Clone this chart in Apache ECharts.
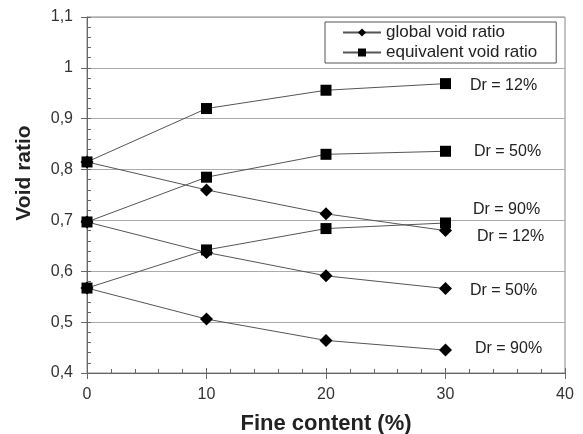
<!DOCTYPE html>
<html>
<head>
<meta charset="utf-8">
<script src="https://cdn.jsdelivr.net/npm/echarts@6/dist/echarts.min.js"></script>
<style>html,body{margin:0;padding:0;background:#fff;}#c{width:583px;height:434px;}</style>
</head>
<body>
<div id="c"></div>
<script>
var fineContent = [0, 10, 20, 30];
var seriesNames = ['global void ratio', 'equivalent void ratio'];
var drLabels = ['Dr = 12%', 'Dr = 50%', 'Dr = 90%'];
var globalDr12 = [0.815, 0.760, 0.713, 0.680];
var globalDr50 = [0.697, 0.637, 0.591, 0.566];
var globalDr90 = [0.567, 0.506, 0.464, 0.445];
var equivDr12 = [0.815, 0.920, 0.956, 0.969];
var equivDr50 = [0.697, 0.785, 0.830, 0.836];
var equivDr90 = [0.567, 0.642, 0.684, 0.695];
var yTicks = [0.4, 0.5, 0.6, 0.7, 0.8, 0.9, 1.0, 1.1];
var xTicks = [0, 10, 20, 30, 40];
var xTitle = 'Fine content (%)';
var yTitle = 'Void ratio';

var FONT = 'Liberation Sans';
function mk(name, ys, symbol, size, lbl, off) {
  return {
    name: name, type: 'line', symbol: symbol, symbolSize: size,
    itemStyle: {color: '#000'},
    lineStyle: {color: '#555', width: 1},
    emphasis: {disabled: true},
    z: 3,
    data: ys.map(function (v, i) {
      var d = {value: [fineContent[i], v]};
      if (i === ys.length - 1) {
        d.label = {show: true, formatter: lbl, position: 'right', distance: 0,
          offset: off, align: 'left', verticalAlign: 'middle',
          fontFamily: FONT, fontSize: 16, color: '#222'};
      }
      return d;
    })
  };
}

var chart = echarts.init(document.getElementById('c'), null, {renderer: 'canvas'});
chart.setOption({
  animation: false,
  backgroundColor: '#fff',
  grid: {left: 87, right: 18, top: 17, bottom: 61, containLabel: false, outerBoundsMode: 'none',
    show: true, borderColor: '#888', borderWidth: 1},
  legend: {
    data: seriesNames,
    orient: 'vertical', left: 325, top: 22,
    itemWidth: 38, itemHeight: 10, itemGap: 3,
    padding: [2, 19, 2, 17],
    borderColor: '#555', borderWidth: 1, backgroundColor: '#fff',
    textStyle: {fontFamily: FONT, fontSize: 17, color: '#222'},
    selectedMode: false
  },
  graphic: [{
    type: 'text', x: 24, y: 173, rotation: Math.PI / 2, z: 10,
    style: {text: yTitle, font: 'bold 21px "Liberation Sans"', fill: '#222', textAlign: 'center', textVerticalAlign: 'middle'}
  }],
  xAxis: [{
    type: 'value', min: xTicks[0], max: xTicks[xTicks.length - 1], interval: 10,
    name: xTitle, nameLocation: 'middle', nameGap: 40,
    nameTextStyle: {fontFamily: FONT, fontSize: 22, fontWeight: 'bold', color: '#222'},
    axisLine: {lineStyle: {color: '#666'}},
    axisTick: {show: true, length: 6, lineStyle: {color: '#666'}},
    minorTick: {show: false},
    splitLine: {show: false},
    axisLabel: {margin: 14, fontFamily: FONT, fontSize: 16, color: '#333'}
  }, {
    type: 'value', min: xTicks[0], max: xTicks[xTicks.length - 1], interval: 10,
    position: 'bottom', axisLine: {show: false},
    axisTick: {show: true, inside: true, length: 5, lineStyle: {color: '#666'}},
    minorTick: {show: true, splitNumber: 5, length: 4, lineStyle: {color: '#666'}},
    axisLabel: {show: false}, splitLine: {show: false}
  }],
  yAxis: [{
    type: 'value', min: yTicks[0], max: yTicks[yTicks.length - 1], interval: 0.1,
    axisLine: {show: true, lineStyle: {color: '#666'}},
    axisTick: {show: true, length: 6, lineStyle: {color: '#666'}},
    splitLine: {show: true, lineStyle: {color: '#aaa', width: 1}},
    axisLabel: {margin: 14, fontFamily: FONT, fontSize: 16, color: '#333',
      formatter: function (v) { return String(Math.round(v * 10) / 10).replace('.', ','); }}
  }, {
    type: 'value', min: yTicks[0], max: yTicks[yTicks.length - 1], interval: 0.1,
    position: 'left', axisLine: {show: false},
    axisTick: {show: true, inside: true, length: 4, lineStyle: {color: '#666'}},
    minorTick: {show: true, splitNumber: 5, length: 4, lineStyle: {color: '#666'}},
    axisLabel: {show: false}, splitLine: {show: false}
  }],
  series: [
    mk(seriesNames[0], globalDr12, 'diamond', 13, drLabels[0], [25, 6]),
    mk(seriesNames[0], globalDr50, 'diamond', 13, drLabels[1], [18, 2]),
    mk(seriesNames[0], globalDr90, 'diamond', 13, drLabels[2], [23, -2]),
    mk(seriesNames[1], equivDr12, 'rect', 11, drLabels[0], [19, 2]),
    mk(seriesNames[1], equivDr50, 'rect', 11, drLabels[1], [23, 0]),
    mk(seriesNames[1], equivDr90, 'rect', 11, drLabels[2], [22, -13])
  ]
});
</script>
</body>
</html>
